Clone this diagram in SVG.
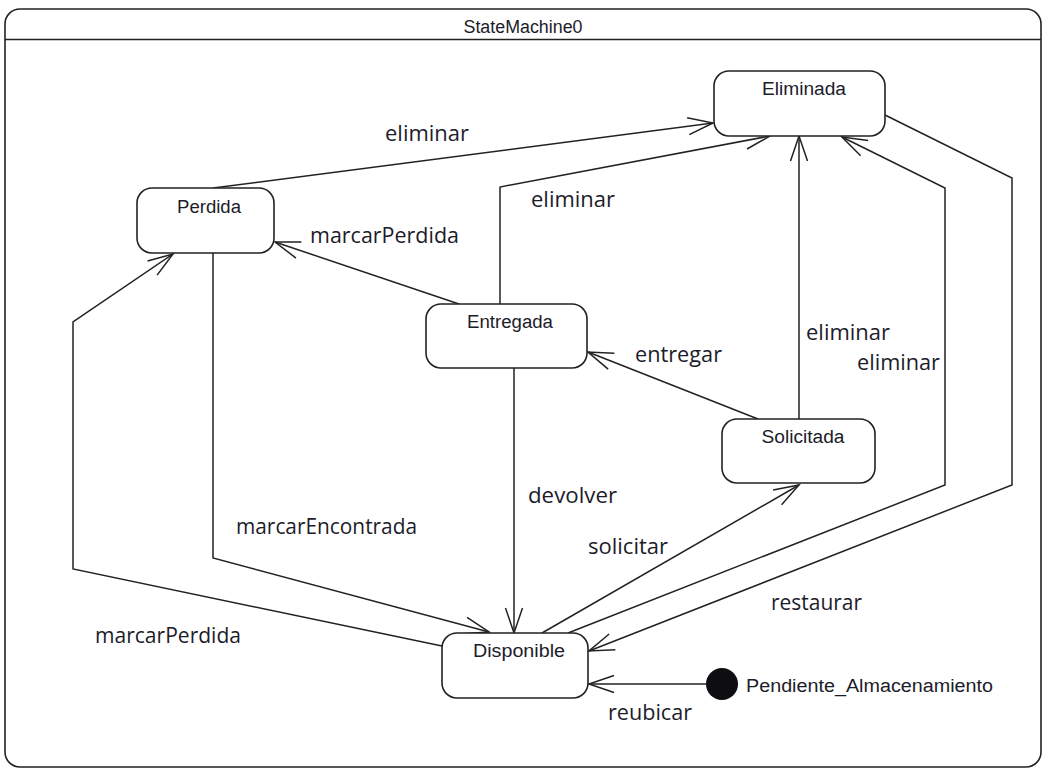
<svg xmlns="http://www.w3.org/2000/svg" width="1044" height="771" viewBox="0 0 1044 771">
<style>
.frame{fill:#fff;stroke:#222;stroke-width:1.6}
.node{fill:#fff;stroke:#222;stroke-width:1.6}
.nl{font-family:"Liberation Sans",Arial,sans-serif;font-size:18px;fill:#1c1c2a}
.tl{font-family:"Open Sans","Liberation Sans",sans-serif;font-size:21px;fill:#1c1c2a}
.edge{fill:none;stroke:#222;stroke-width:1.5;marker-end:url(#arr)}
</style>
<defs>
<marker id="arr" markerUnits="userSpaceOnUse" viewBox="-27 -11 29 22" refX="0" refY="0" markerWidth="29" markerHeight="22" orient="auto" overflow="visible">
<path d="M-25,-8.5 L0,0 L-25,8.5" fill="none" stroke="#222" stroke-width="1.5"/>
</marker>
</defs>
<rect width="1044" height="771" fill="#fff"/>
<g id="frame">
<rect class="frame" x="5" y="9" width="1036" height="758" rx="15"/>
<line x1="5" y1="39.5" x2="1041" y2="39.5" stroke="#222" stroke-width="1.6"/>
<text class="nl" x="523" y="33" text-anchor="middle" textLength="119" lengthAdjust="spacingAndGlyphs">StateMachine0</text>
</g>
<g id="connectors">
<polyline class="edge" points="213,188 713,123"/>
<polyline class="edge" points="500,304 500,187 770,136"/>
<polyline class="edge" points="799,419 799,136"/>
<polyline class="edge" points="568,633 945,485 945,188 842,137"/>
<polyline class="edge" points="885,115 1012,178 1012,485 589,651"/>
<polyline class="edge" points="758,419 588,352"/>
<polyline class="edge" points="459,304 275,242"/>
<polyline class="edge" points="514,368 514,633"/>
<polyline class="edge" points="213,253 213,558 489,632"/>
<polyline class="edge" points="442,646 73,569 73,322 173,254"/>
<polyline class="edge" points="542,633 799,485"/>
<polyline class="edge" points="706,684 589,684"/>
<text class="tl" x="385" y="141" textLength="84" lengthAdjust="spacingAndGlyphs">eliminar</text>
<text class="tl" x="531" y="207" textLength="84" lengthAdjust="spacingAndGlyphs">eliminar</text>
<text class="tl" x="310" y="243" textLength="149" lengthAdjust="spacingAndGlyphs">marcarPerdida</text>
<text class="tl" x="635" y="362" textLength="87" lengthAdjust="spacingAndGlyphs">entregar</text>
<text class="tl" x="806" y="340" textLength="84" lengthAdjust="spacingAndGlyphs">eliminar</text>
<text class="tl" x="857" y="370" textLength="83" lengthAdjust="spacingAndGlyphs">eliminar</text>
<text class="tl" x="528" y="503" textLength="89" lengthAdjust="spacingAndGlyphs">devolver</text>
<text class="tl" x="588" y="554" textLength="80" lengthAdjust="spacingAndGlyphs">solicitar</text>
<text class="tl" x="771" y="610" textLength="91" lengthAdjust="spacingAndGlyphs">restaurar</text>
<text class="tl" x="236" y="534" textLength="181" lengthAdjust="spacingAndGlyphs">marcarEncontrada</text>
<text class="tl" x="95" y="643" textLength="146" lengthAdjust="spacingAndGlyphs">marcarPerdida</text>
<text class="tl" x="608" y="720" textLength="84" lengthAdjust="spacingAndGlyphs">reubicar</text>
</g>
<g id="Eliminada">
<rect class="node" x="714" y="71" width="171" height="65" rx="15"/>
<text class="nl" x="804" y="95" text-anchor="middle" textLength="84" lengthAdjust="spacingAndGlyphs">Eliminada</text>
</g>
<g id="Perdida">
<rect class="node" x="137" y="188" width="137" height="65" rx="15"/>
<text class="nl" x="209" y="213" text-anchor="middle" textLength="64" lengthAdjust="spacingAndGlyphs">Perdida</text>
</g>
<g id="Entregada">
<rect class="node" x="426" y="304" width="161" height="64" rx="15"/>
<text class="nl" x="510" y="328" text-anchor="middle" textLength="86" lengthAdjust="spacingAndGlyphs">Entregada</text>
</g>
<g id="Solicitada">
<rect class="node" x="722" y="419" width="153" height="64" rx="15"/>
<text class="nl" x="803" y="443" text-anchor="middle" textLength="83" lengthAdjust="spacingAndGlyphs">Solicitada</text>
</g>
<g id="Disponible">
<rect class="node" x="442" y="633" width="146" height="65" rx="15"/>
<text class="nl" x="519" y="657" text-anchor="middle" textLength="92" lengthAdjust="spacingAndGlyphs">Disponible</text>
</g>
<g id="Pendiente_Almacenamiento">
<circle cx="722" cy="684" r="16" fill="#0d0d12"/>
<text class="nl" x="746" y="692" textLength="247" lengthAdjust="spacingAndGlyphs">Pendiente_Almacenamiento</text>
</g>
</svg>
